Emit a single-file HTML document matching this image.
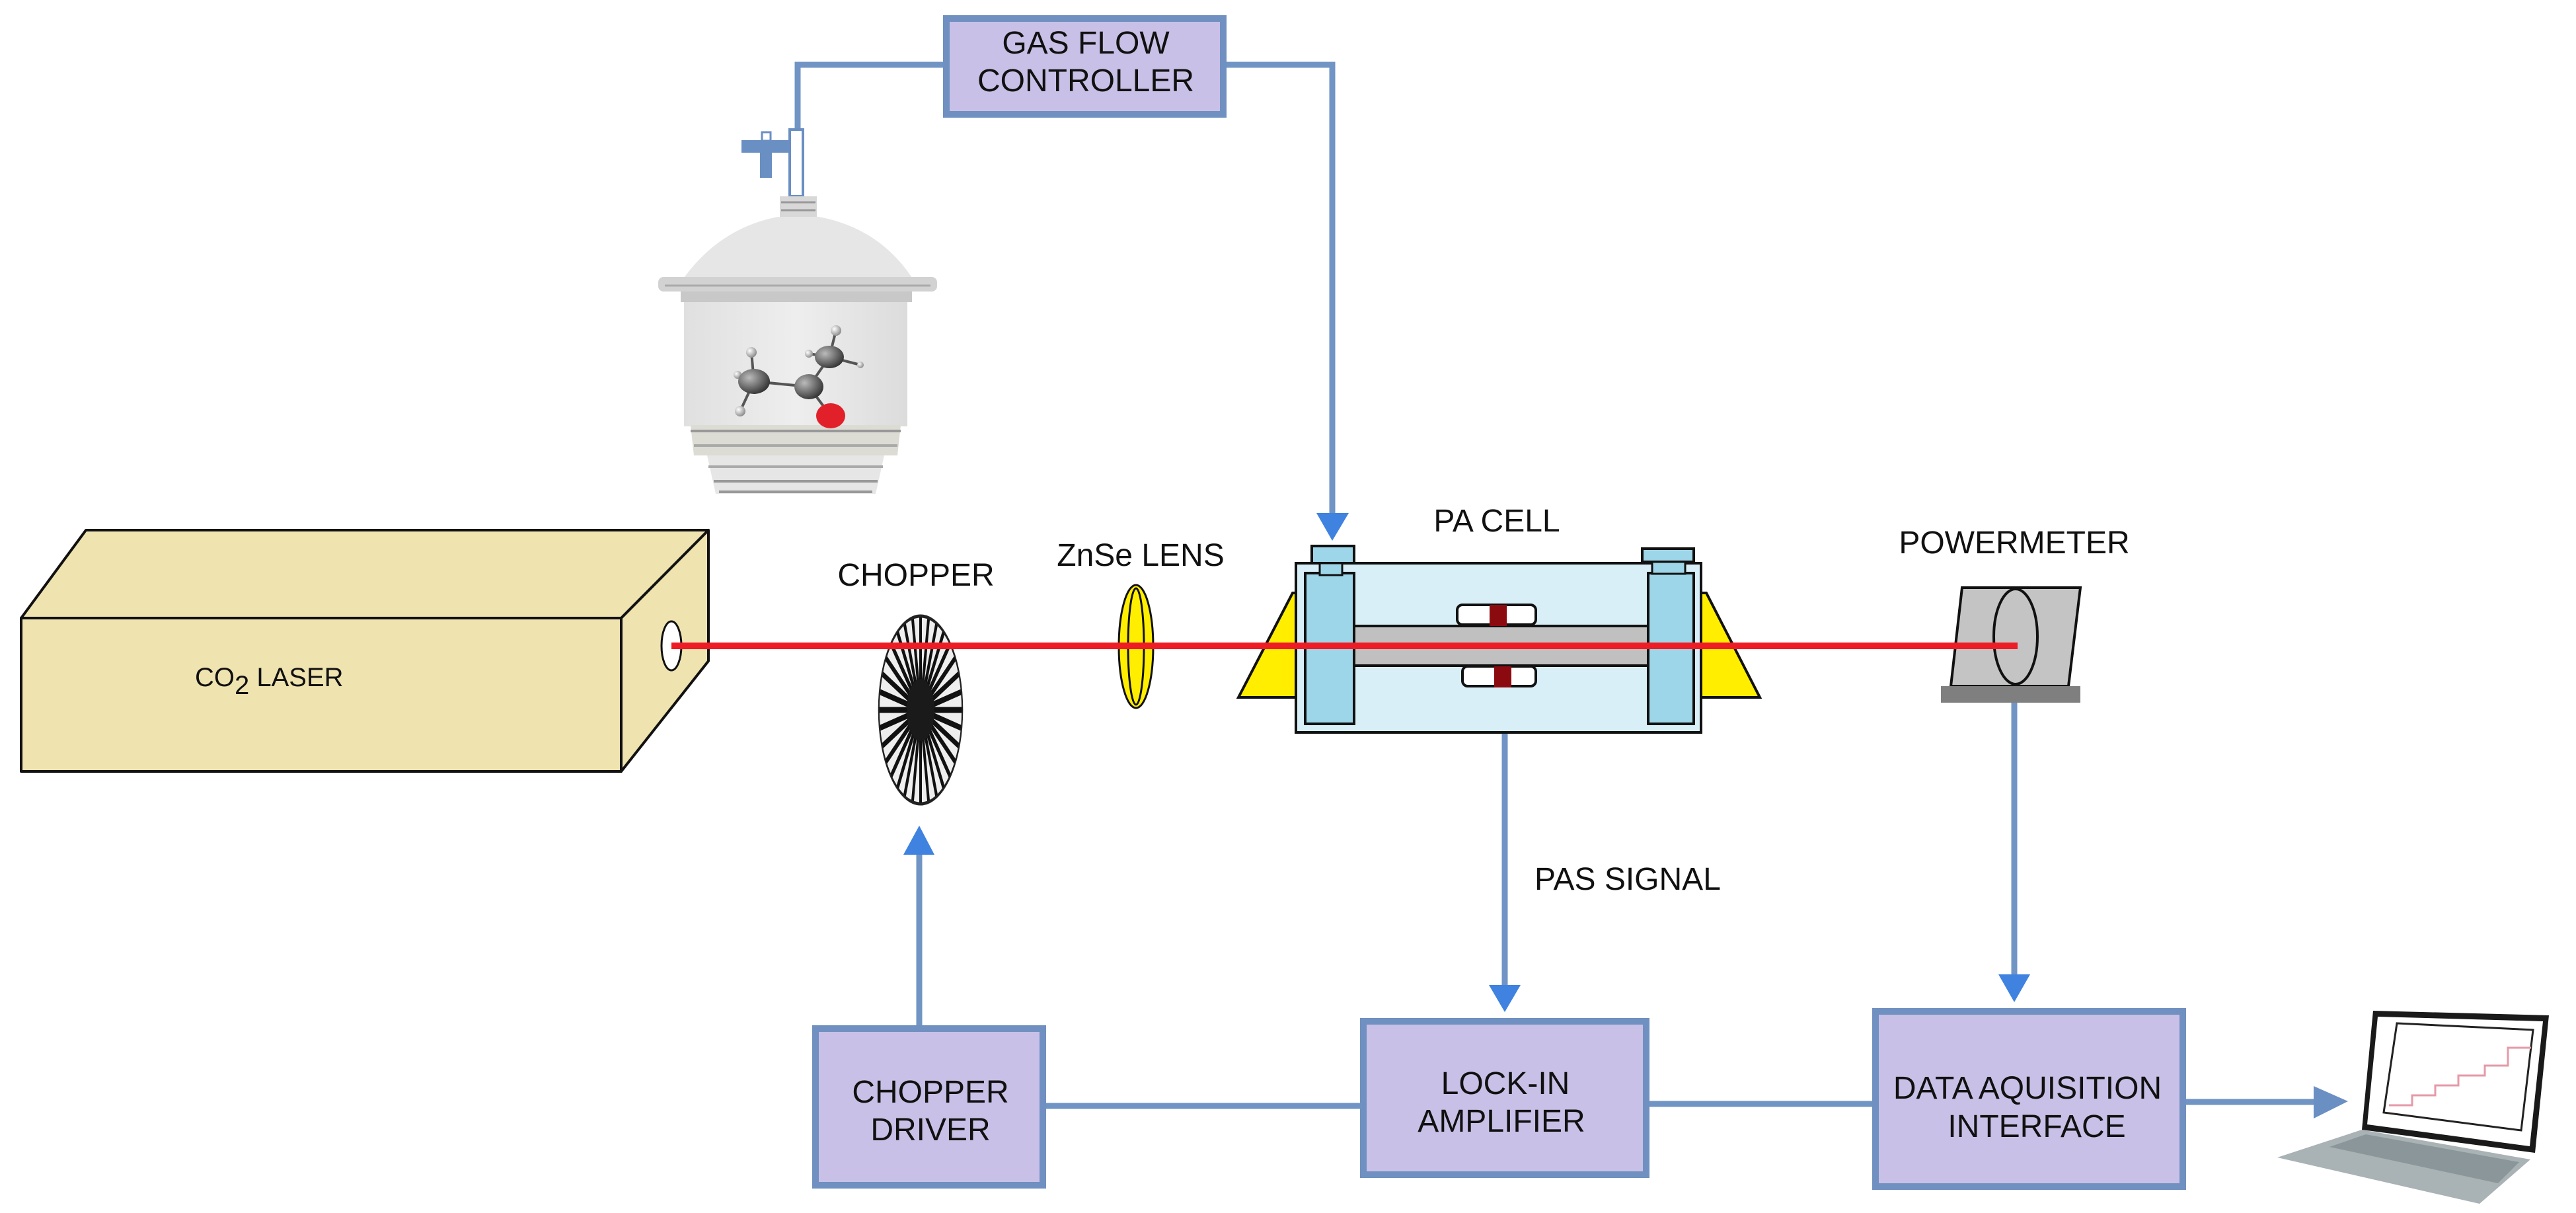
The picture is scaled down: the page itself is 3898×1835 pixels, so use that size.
<!DOCTYPE html>
<html><head><meta charset="utf-8"><style>html,body{margin:0;padding:0;background:#fff}svg{display:block}</style></head>
<body>
<svg width="3898" height="1835" viewBox="0 0 3898 1835" xmlns="http://www.w3.org/2000/svg" font-family="Liberation Sans, Arial, sans-serif">
<defs>
<linearGradient id="jar" x1="0" x2="1"><stop offset="0" stop-color="#e0e0e0"/><stop offset="0.5" stop-color="#eeeeee"/><stop offset="1" stop-color="#dcdcdc"/></linearGradient>
<radialGradient id="cg" cx="0.35" cy="0.35" r="0.7"><stop offset="0" stop-color="#bbb"/><stop offset="1" stop-color="#333"/></radialGradient>
<radialGradient id="hg" cx="0.35" cy="0.35" r="0.7"><stop offset="0" stop-color="#fff"/><stop offset="1" stop-color="#888"/></radialGradient>
</defs>

<!-- connectors -->
<g stroke="#7094c4" stroke-width="9" fill="none">
<polyline points="1427,98 1207,98 1207,196"/>
<polyline points="1856,98 2016,98 2016,780"/>
<line x1="1391" y1="1551" x2="1391" y2="1290"/>
<line x1="1583" y1="1673" x2="2058" y2="1673"/>
<line x1="2496" y1="1670" x2="2833" y2="1670"/>
<line x1="2277" y1="1039" x2="2277" y2="1495"/>
<line x1="3048" y1="1063" x2="3048" y2="1480"/>
<line x1="3308" y1="1667" x2="3505" y2="1667"/>
</g>
<g fill="#3f82e0">
<polygon points="1992,776 2041,776 2016,818"/>
<polygon points="1367,1293 1414,1293 1391,1249"/>
<polygon points="2253,1490 2301,1490 2277,1531"/>
<polygon points="3024,1474 3072,1474 3048,1516"/>
</g>
<polygon points="3501,1643 3553,1666 3501,1692" fill="#6a8fc3"/>

<!-- boxes -->
<g fill="#c8c0e6" stroke="#6f90c0" stroke-width="10">
<rect x="1432" y="28" width="419" height="145"/>
<rect x="1234" y="1556" width="344" height="237"/>
<rect x="2063" y="1545" width="428" height="232"/>
<rect x="2838" y="1530" width="465" height="265"/>
</g>
<g font-size="48" fill="#111" text-anchor="middle">
<text x="1643" y="81">GAS FLOW</text>
<text x="1643" y="138">CONTROLLER</text>
<text x="1408" y="1668">CHOPPER</text>
<text x="1408" y="1725">DRIVER</text>
<text x="2278" y="1655">LOCK-IN</text>
<text x="2272" y="1712">AMPLIFIER</text>
<text x="3068" y="1662">DATA AQUISITION</text>
<text x="3082" y="1720">INTERFACE</text>
<text x="1386" y="886">CHOPPER</text>
<text x="1726" y="856">ZnSe LENS</text>
<text x="2265" y="804">PA CELL</text>
<text x="3048" y="837">POWERMETER</text>
</g>
<text x="2322" y="1346" font-size="48" fill="#111">PAS SIGNAL</text>

<!-- jar -->
<rect x="1195" y="196" width="20" height="101" fill="#fff" stroke="#6a8fc3" stroke-width="4"/>
<rect x="1122" y="212" width="75" height="19" fill="#6a8fc3"/>
<rect x="1150" y="229" width="18" height="40" fill="#6a8fc3"/>
<rect x="1153" y="200" width="13" height="13" fill="#fff" stroke="#6a8fc3" stroke-width="3"/>
<rect x="1180" y="297" width="56" height="31" fill="#d8d8d8"/>
<line x1="1182" y1="306" x2="1234" y2="306" stroke="#999" stroke-width="3"/>
<line x1="1182" y1="318" x2="1234" y2="318" stroke="#999" stroke-width="3"/>
<path d="M1177,328 L1239,328 Q1330,345 1380,420 L1035,420 Q1090,345 1177,328 Z" fill="#e6e6e6"/>
<rect x="996" y="419" width="422" height="22" rx="8" fill="#d2d2d2"/>
<line x1="1006" y1="432" x2="1408" y2="432" stroke="#aaa" stroke-width="3"/>
<rect x="1030" y="441" width="350" height="16" fill="#c8c8c8"/>
<rect x="1035" y="457" width="338" height="188" fill="url(#jar)"/>
<path d="M1045,643 L1363,643 L1358,689 L1050,689 Z" fill="#dcdcd4"/>
<line x1="1045" y1="652" x2="1363" y2="652" stroke="#999" stroke-width="4"/>
<line x1="1050" y1="674" x2="1358" y2="674" stroke="#aaa" stroke-width="4"/>
<path d="M1070,689 L1338,689 L1325,747 L1083,747 Z" fill="#e6e6e6"/>
<line x1="1072" y1="706" x2="1336" y2="706" stroke="#aaa" stroke-width="4"/>
<line x1="1080" y1="728" x2="1328" y2="728" stroke="#999" stroke-width="4"/>
<line x1="1088" y1="744" x2="1320" y2="744" stroke="#999" stroke-width="4"/>
<!-- molecule -->
<g stroke="#555" stroke-width="4">
<line x1="1141" y1="577" x2="1224" y2="585"/><line x1="1224" y1="585" x2="1255" y2="540"/>
<line x1="1224" y1="585" x2="1257" y2="629"/><line x1="1141" y1="577" x2="1137" y2="533"/>
<line x1="1141" y1="577" x2="1120" y2="622"/><line x1="1255" y1="540" x2="1265" y2="500"/>
<line x1="1255" y1="540" x2="1302" y2="552"/><line x1="1141" y1="577" x2="1116" y2="567"/>
<line x1="1255" y1="540" x2="1224" y2="535"/>
</g>
<g fill="url(#hg)">
<circle cx="1137" cy="533" r="8"/><circle cx="1120" cy="622" r="8"/><circle cx="1265" cy="500" r="8"/>
<circle cx="1302" cy="552" r="5"/><circle cx="1116" cy="567" r="6"/><circle cx="1224" cy="535" r="6"/>
</g>
<g fill="url(#cg)">
<ellipse cx="1141" cy="577" rx="24" ry="19"/><ellipse cx="1224" cy="585" rx="22" ry="19"/><ellipse cx="1255" cy="540" rx="22" ry="17"/>
</g>
<ellipse cx="1257" cy="629" rx="22" ry="19" fill="#e2202a"/>

<!-- laser -->
<g stroke="#111" stroke-width="4" stroke-linejoin="round" fill="#efe3b0">
<polygon points="130,802 1072,802 940,935 32,935"/>
<polygon points="1072,802 1072,1000 940,1167 940,935"/>
<rect x="32" y="935" width="908" height="232"/>
</g>
<ellipse cx="1016" cy="977" rx="15" ry="37" fill="#fff" stroke="#111" stroke-width="3"/>
<text x="295" y="1038" font-size="40" fill="#111">CO<tspan font-size="40" dy="12">2</tspan><tspan dy="-12"> LASER</tspan></text>

<!-- PA cell -->
<g stroke="#111" stroke-width="4">
<polygon points="1874,1055 1956,897 1961,897 1961,1055" fill="#ffee00"/>
<polygon points="2574,897 2582,897 2663,1055 2574,1055" fill="#ffee00"/>
<rect x="1961" y="852" width="613" height="256" fill="#d8eff8"/>
<rect x="1985" y="826" width="64" height="26" fill="#9dd6e8"/>
<rect x="2485" y="830" width="78" height="20" fill="#9dd6e8"/>
<rect x="1975" y="867" width="74" height="228" fill="#9dd6e8"/>
<rect x="2494" y="867" width="69" height="228" fill="#9dd6e8"/>
<rect x="2049" y="947" width="445" height="60" fill="#c0c0c0"/>
<rect x="2205" y="915" width="119" height="30" rx="8" fill="#fff"/>
<rect x="2213" y="1008" width="111" height="30" rx="8" fill="#fff"/>
</g>
<rect x="1997" y="852" width="34" height="18" fill="#9dd6e8" stroke="#111" stroke-width="3"/>
<rect x="2500" y="850" width="50" height="18" fill="#9dd6e8" stroke="#111" stroke-width="3"/>
<rect x="2254" y="915" width="26" height="32" fill="#8b0a10"/>
<rect x="2261" y="1008" width="26" height="32" fill="#8b0a10"/>

<!-- lens -->
<ellipse cx="1719" cy="978" rx="26" ry="93" fill="#ffee00" stroke="#111" stroke-width="3"/>
<ellipse cx="1719" cy="978" rx="12" ry="88" fill="none" stroke="#111" stroke-width="3"/>

<!-- chopper -->
<g transform="translate(1393,1074) scale(0.445,1)">
<circle r="142" fill="#eee" stroke="#222" stroke-width="5"/>
<g stroke="#111" stroke-width="9">
<line x1="0" y1="-140" x2="0" y2="140" /><line x1="-140" y1="0" x2="140" y2="0"/>
<line x1="-99" y1="-99" x2="99" y2="99"/><line x1="-99" y1="99" x2="99" y2="-99"/>
<line x1="-54" y1="-129" x2="54" y2="129"/><line x1="54" y1="-129" x2="-54" y2="129"/>
<line x1="-129" y1="-54" x2="129" y2="54"/><line x1="-129" y1="54" x2="129" y2="-54"/>
<line x1="-27" y1="-137" x2="27" y2="137"/><line x1="27" y1="-137" x2="-27" y2="137"/>
<line x1="-78" y1="-117" x2="78" y2="117"/><line x1="78" y1="-117" x2="-78" y2="117"/>
<line x1="-117" y1="-78" x2="117" y2="78"/><line x1="-117" y1="78" x2="117" y2="-78"/>
<line x1="-137" y1="-27" x2="137" y2="27"/><line x1="-137" y1="27" x2="137" y2="-27"/>
</g>
<circle r="47" fill="#1a1a1a"/>
</g>

<!-- powermeter -->
<polygon points="2969,889 3148,889 3130,1038 2952,1038" fill="#c4c4c4" stroke="#111" stroke-width="4"/>
<rect x="2937" y="1038" width="211" height="25" fill="#7f7f7f"/>
<ellipse cx="3050" cy="963" rx="33" ry="72" fill="none" stroke="#111" stroke-width="4"/>

<!-- beam -->
<line x1="1016" y1="977" x2="3053" y2="977" stroke="#ee1c25" stroke-width="10"/>

<!-- laptop -->
<polygon points="3446,1751 3752,1821 3829,1754 3574,1709" fill="#a9b2b4"/>
<polygon points="3525,1735 3780,1790 3812,1758 3580,1716" fill="#8a9699"/>
<polygon points="3591,1529 3857,1536 3836,1744 3574,1709" fill="#1a1a1a"/>
<polygon points="3598,1538 3848,1545 3828,1734 3582,1701" fill="#fff"/>
<polygon points="3627,1548 3833,1558 3815,1710 3607,1683" fill="#fff" stroke="#222" stroke-width="3"/>
<polyline points="3615,1672 3650,1672 3650,1657 3685,1657 3685,1642 3720,1642 3720,1627 3760,1627 3760,1612 3795,1612 3795,1585 3830,1585" fill="none" stroke="#e59aa8" stroke-width="3"/>
</svg>
</body></html>
